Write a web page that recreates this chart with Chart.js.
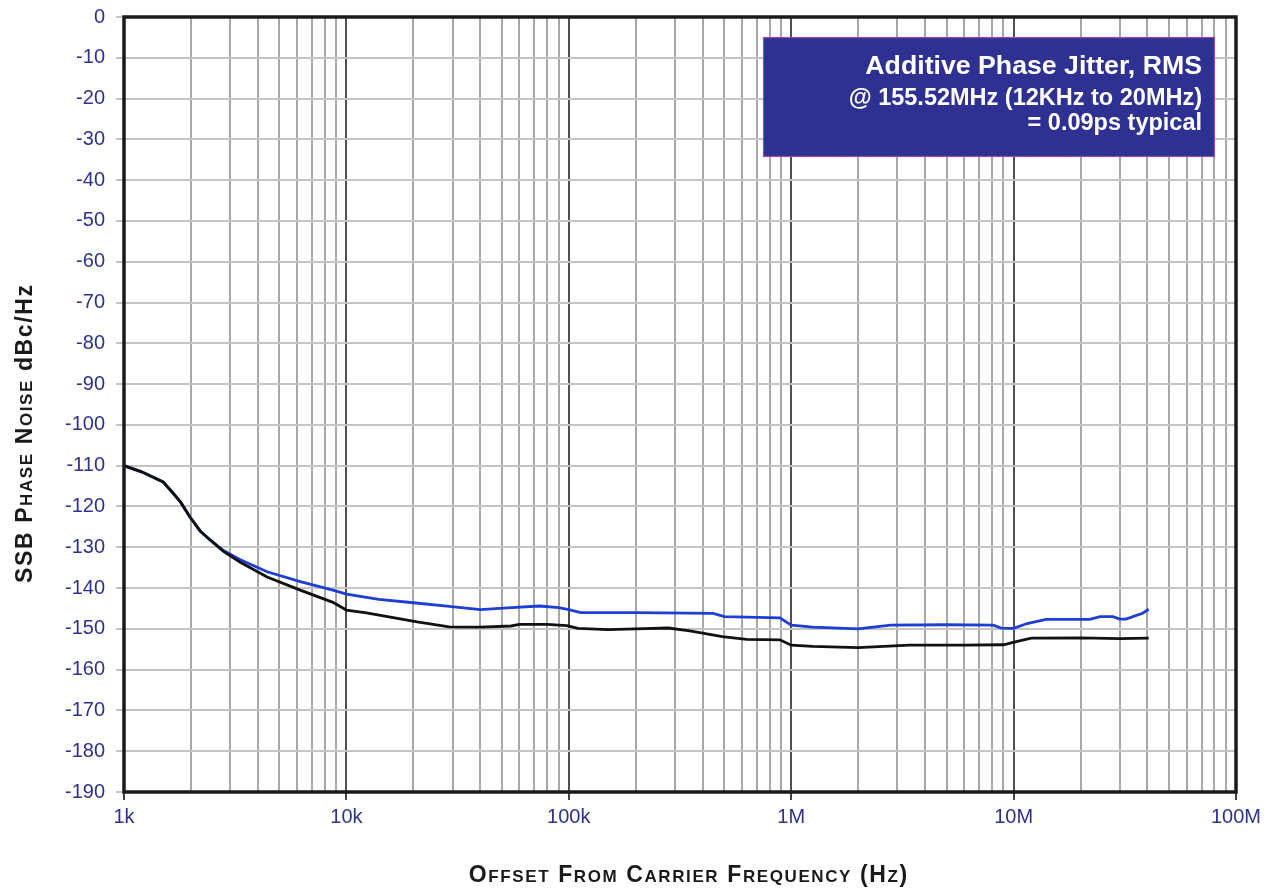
<!DOCTYPE html>
<html><head><meta charset="utf-8">
<script src="https://cdn.jsdelivr.net/npm/chart.js@4.4.0/dist/chart.umd.min.js"></script>
<style>html,body{margin:0;padding:0;background:#fff}#wrap{width:1273px;height:888px}</style>
</head><body><div id="wrap"><canvas id="c" width="1273" height="888"></canvas></div>
<script>
// ---- data ----
const blackFreq = [1000,1200,1500,1660,1800,1980,2200,2440,2800,3320,4400,6200,8700,10000,12300,16000,20800,29000,40000,55000,60000,80000,98000,110000,150000,200000,280000,350000,490000,630000,890000,1000000,1250000,2000000,3400000,6000000,9000000,10400000,12000000,20000000,30000000,40500000];
const blackDb   = [-110,-111.5,-114,-116.7,-119,-122.6,-126,-128.2,-131,-133.6,-137.3,-140.5,-143.5,-145.4,-146.1,-147.2,-148.3,-149.5,-149.6,-149.3,-148.9,-148.9,-149.2,-149.9,-150.2,-150.0,-149.8,-150.5,-151.9,-152.6,-152.7,-154.0,-154.3,-154.6,-154.0,-154.0,-153.9,-153.1,-152.3,-152.2,-152.4,-152.3];
const blueFreq  = [1000,1200,1500,1660,1800,1980,2200,2440,2800,3320,4400,6200,8700,10000,14000,20000,29000,40000,55000,74000,90000,100000,113000,200000,446000,500000,890000,1000000,1250000,2000000,2800000,5000000,8100000,8800000,10000000,11500000,14000000,22000000,24500000,28000000,30000000,32000000,38000000,40500000];
const blueDb    = [-110,-111.5,-114,-116.7,-119,-122.6,-126,-128.2,-130.8,-133.0,-136.0,-138.4,-140.5,-141.5,-142.8,-143.6,-144.5,-145.3,-144.8,-144.4,-144.8,-145.3,-146.0,-146.0,-146.2,-147.0,-147.3,-149.1,-149.6,-150.0,-149.1,-149.0,-149.1,-149.8,-149.9,-148.7,-147.7,-147.7,-147.0,-147.0,-147.6,-147.6,-146.2,-145.2];
const xTickValues = [1e3,1e4,1e5,1e6,1e7,1e8];
const xTickLabels = ['1k','10k','100k','1M','10M','100M'];
const minorMultipliers = [1,2,3,4,5,6,7,8,9];
const yMin = -190, yMax = 0, yStep = 10;
const annotationLines = ['Additive Phase Jitter, RMS','@ 155.52MHz (12KHz to 20MHz)','= 0.09ps typical'];
const xTitle = 'Offset From Carrier Frequency (Hz)';
const yTitle = 'SSB Phase Noise dBc/Hz';
const yTitleNoCaps = ['dBc/Hz'];

const NAVY = '#2e3192';
const FONT = "'Liberation Sans', Arial, Helvetica, sans-serif";

function isDecade(v){ return xTickValues.some(d => Math.abs(d - v) / d < 1e-9); }

function smallCapsPieces(text, noCaps){
  const pieces = [];
  text.split(' ').forEach((w, wi, arr) => {
    const keep = noCaps.includes(w);
    for (const ch of w) {
      if (!keep && ch >= 'a' && ch <= 'z') pieces.push({c: ch.toUpperCase(), small: true});
      else pieces.push({c: ch, small: false});
    }
    if (wi < arr.length - 1) pieces.push({c: ' ', small: false});
  });
  return pieces;
}
function drawSmallCaps(ctx, text, noCaps, cx, baseY, big, small, spacing){
  const pieces = smallCapsPieces(text, noCaps);
  const fBig = `bold ${big}px ${FONT}`, fSmall = `bold ${small}px ${FONT}`;
  let total = 0;
  pieces.forEach(p => { ctx.font = p.small ? fSmall : fBig; p.w = ctx.measureText(p.c).width; total += p.w + spacing; });
  total -= spacing;
  let x = cx - total / 2;
  ctx.textAlign = 'left'; ctx.textBaseline = 'alphabetic';
  pieces.forEach(p => { ctx.font = p.small ? fSmall : fBig; ctx.fillText(p.c, x, baseY); x += p.w + spacing; });
}

const decorPlugin = {
  id: 'decor',
  afterDraw(chart){
    const ctx = chart.ctx, a = chart.chartArea;
    ctx.save();
    // plot frame
    ctx.strokeStyle = '#1a1a1a'; ctx.lineWidth = 3.5;
    ctx.strokeRect(a.left, a.top, a.right - a.left, a.bottom - a.top);
    // annotation box
    ctx.fillStyle = NAVY;
    ctx.fillRect(763, 37, 452, 120);
    ctx.strokeStyle = '#a04aa8'; ctx.lineWidth = 1.2;
    ctx.strokeRect(763.5, 37.5, 451, 119);
    ctx.fillStyle = '#ffffff'; ctx.textAlign = 'right'; ctx.textBaseline = 'alphabetic';
    ctx.font = `bold 26.7px ${FONT}`; ctx.fillText(annotationLines[0], 1202, 74);
    ctx.font = `bold 23.5px ${FONT}`; ctx.fillText(annotationLines[1], 1202, 105);
    ctx.fillText(annotationLines[2], 1202, 130);
    // axis titles
    ctx.fillStyle = '#1a1a1a';
    drawSmallCaps(ctx, xTitle, [], 688, 882, 23, 17, 1.6);
    ctx.translate(32, 434); ctx.rotate(-Math.PI / 2);
    drawSmallCaps(ctx, yTitle, yTitleNoCaps, 0, 0, 23, 17, 1.6);
    ctx.restore();
  }
};

new Chart(document.getElementById('c'), {
  type: 'line',
  data: { datasets: [
    { label: 'Black', data: blackFreq.map((f, i) => ({x: f, y: blackDb[i]})), borderColor: '#111111', borderWidth: 2.8, pointRadius: 0, tension: 0 },
    { label: 'Blue', data: blueFreq.map((f, i) => ({x: f, y: blueDb[i]})), borderColor: '#1d3fd6', borderWidth: 2.8, pointRadius: 0, tension: 0 }
  ]},
  options: {
    responsive: false, animation: false,
    layout: { padding: { left: 0, top: 17, right: 37, bottom: 0 } },
    plugins: { legend: { display: false }, tooltip: { enabled: false } },
    scales: {
      x: {
        type: 'logarithmic', min: xTickValues[0], max: xTickValues[xTickValues.length - 1],
        afterBuildTicks: s => {
          const t = [];
          for (let i = 0; i < xTickValues.length - 1; i++) minorMultipliers.forEach(m => t.push({value: m * xTickValues[i]}));
          t.push({value: xTickValues[xTickValues.length - 1]});
          s.ticks = t;
        },
        afterFit: s => { s.height = 96; s.paddingLeft = 0; s.paddingRight = 0; },
        grid: {
          color: c => (c.tick && isDecade(c.tick.value)) ? '#505050' : '#a8a8a8',
          lineWidth: 2, tickLength: 8,
          tickColor: c => (c.tick && isDecade(c.tick.value)) ? '#444' : 'rgba(0,0,0,0)'
        },
        border: { display: false },
        ticks: {
          autoSkip: false, maxRotation: 0, padding: 5, color: NAVY,
          font: { family: FONT, size: 20 },
          callback: v => { const i = xTickValues.findIndex(d => Math.abs(d - v) / d < 1e-9); return i >= 0 ? xTickLabels[i] : ''; }
        }
      },
      y: {
        min: yMin, max: yMax,
        afterFit: s => { s.width = 124; s.paddingTop = 0; s.paddingBottom = 0; },
        grid: { color: '#c4c4c4', lineWidth: 2, tickLength: 8 },
        border: { display: false },
        ticks: { stepSize: yStep, padding: 11, color: NAVY, font: { family: FONT, size: 20 } }
      }
    }
  },
  plugins: [decorPlugin]
});
</script>
</body></html>
